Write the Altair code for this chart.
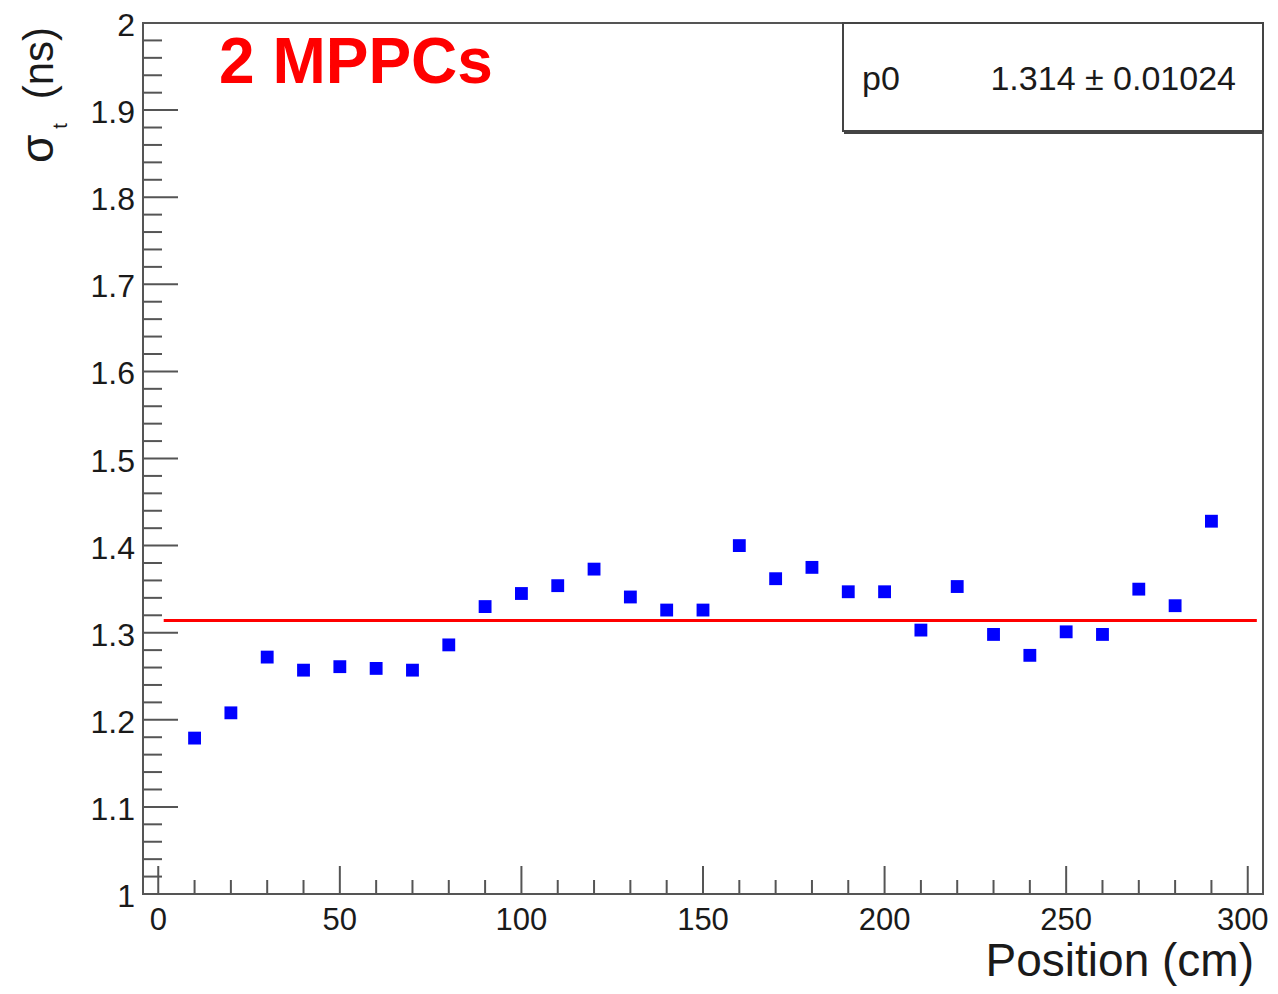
import altair as alt
import pandas as pd

# ---- data ----
positions = [10, 20, 30, 40, 50, 60, 70, 80, 90, 100, 110, 120, 130, 140, 150,
             160, 170, 180, 190, 200, 210, 220, 230, 240, 250, 260, 270, 280, 290]
sigma_t = [1.179, 1.208, 1.272, 1.257, 1.261, 1.259, 1.257, 1.286, 1.330, 1.345,
           1.354, 1.373, 1.341, 1.326, 1.326, 1.400, 1.362, 1.375, 1.347, 1.347,
           1.303, 1.353, 1.298, 1.274, 1.301, 1.298, 1.350, 1.331, 1.428]
fit_p0 = 1.314
fit_range = [1.5, 302.5]
stats_name = "p0"
stats_text = "1.314 \u00b1 0.01024"
label_text = "2 MPPCs"
x_title = "Position (cm)"

x_major = [0, 50, 100, 150, 200, 250, 300]
x_major_labels = ["0", "50", "100", "150", "200", "250", "300"]
x_minor = [v for v in range(0, 301, 10) if v % 50 != 0]
y_major = [1.0, 1.1, 1.2, 1.3, 1.4, 1.5, 1.6, 1.7, 1.8, 1.9, 2.0]
y_major_labels = ["1", "1.1", "1.2", "1.3", "1.4", "1.5", "1.6", "1.7", "1.8", "1.9", "2"]
y_minor = [round(1.0 + 0.02 * i, 2) for i in range(51) if i % 5 != 0]

W, H = 1120, 871
FONT = "Liberation Sans"
FRAME = "#555555"
TXT = "#1a1a1a"

xscale = alt.Scale(domain=[-4.2, 304.2], nice=False, zero=False)
yscale = alt.Scale(domain=[1.0, 2.0], nice=False, zero=False)

pts = pd.DataFrame({"pos": positions, "sigma": sigma_t})
fit = pd.DataFrame({"x0": [fit_range[0]], "x1": [fit_range[1]], "p0": [fit_p0]})
xlab_inner = pd.DataFrame({"v": x_major[:-1], "t": x_major_labels[:-1]})
xlab_last = pd.DataFrame({"v": x_major[-1:], "t": x_major_labels[-1:]})
ylab = pd.DataFrame({"v": y_major, "t": y_major_labels})

base_pts = alt.Chart(pts).mark_square(size=165, color="#0000ff", opacity=1).encode(
    x=alt.X("pos:Q", scale=xscale, axis=None),
    y=alt.Y("sigma:Q", scale=yscale, axis=None),
)

fit_line = alt.Chart(fit).mark_rule(color="#ff0000", strokeWidth=3).encode(
    x=alt.X("x0:Q", scale=xscale, axis=None),
    x2="x1:Q",
    y=alt.Y("p0:Q", scale=yscale, axis=None),
)

def xticks(vals, length):
    return alt.Chart(pd.DataFrame({"v": vals})).mark_rule(color=FRAME, strokeWidth=2).encode(
        x=alt.X("v:Q", scale=xscale, axis=None),
        y=alt.value(H), y2=alt.value(H - length))

def yticks(vals, length):
    return alt.Chart(pd.DataFrame({"v": vals})).mark_rule(color=FRAME, strokeWidth=2).encode(
        y=alt.Y("v:Q", scale=yscale, axis=None),
        x=alt.value(0), x2=alt.value(length))

def xlabels(df, shift):
    return alt.Chart(df).mark_text(font=FONT, fontSize=31, color=TXT, align="center",
                                   baseline="alphabetic", dx=shift).encode(
        x=alt.X("v:Q", scale=xscale, axis=None), y=alt.value(907), text="t:N")

y_labels = alt.Chart(ylab).mark_text(font=FONT, fontSize=32, color=TXT, align="right",
                                     baseline="middle", dy=3).encode(
    y=alt.Y("v:Q", scale=yscale, axis=None), x=alt.value(-8), text="t:N")

one = pd.DataFrame({"a": [0]})

x_title_mark = alt.Chart(one).mark_text(font=FONT, fontSize=46, color=TXT, align="right",
                                        baseline="alphabetic").encode(
    x=alt.value(W - 9), y=alt.value(953), text=alt.value(x_title))

# stats box
box = alt.Chart(one).mark_rect(fill="white", stroke="#444444", strokeWidth=2).encode(
    x=alt.value(700), x2=alt.value(W), y=alt.value(0), y2=alt.value(108))
box_shadow = alt.Chart(one).mark_rule(color="#444444", strokeWidth=2).encode(
    x=alt.value(701), x2=alt.value(W), y=alt.value(110))
stat_name = alt.Chart(one).mark_text(font=FONT, fontSize=34, color=TXT, align="left",
                                     baseline="alphabetic").encode(
    x=alt.value(719), y=alt.value(67), text=alt.value(stats_name))
stat_val = alt.Chart(one).mark_text(font=FONT, fontSize=34, color=TXT, align="right",
                                    baseline="alphabetic").encode(
    x=alt.value(1093), y=alt.value(67), text=alt.value(stats_text))

# red label
red_label = alt.Chart(one).mark_text(font=FONT, fontSize=64, fontWeight="bold", color="#ff0000",
                                     align="left", baseline="alphabetic").encode(
    x=alt.value(76), y=alt.value(60), text=alt.value(label_text))

# y-axis title: sigma_t (ns), rotated
ytitle_ns = alt.Chart(one).mark_text(font=FONT, fontSize=42, color=TXT, angle=270, align="right",
                                     baseline="alphabetic").encode(
    x=alt.value(-90), y=alt.value(4), text=alt.value("(ns)"))
ytitle_sigma = alt.Chart(one).mark_text(font=FONT, fontSize=46, color=TXT, angle=270, align="left",
                                        baseline="alphabetic").encode(
    x=alt.value(-90), y=alt.value(140), text=alt.value("\u03c3"))
ytitle_t = alt.Chart(one).mark_text(font=FONT, fontSize=20, color=TXT, angle=270, align="center",
                                    baseline="alphabetic").encode(
    x=alt.value(-76), y=alt.value(103), text=alt.value("t"))

chart = alt.layer(
    base_pts,
    xticks(x_minor, 14), xticks(x_major, 28),
    yticks(y_minor, 19), yticks(y_major, 35),
    fit_line, xlabels(xlab_inner, 0), xlabels(xlab_last, -5), y_labels, x_title_mark,
    box, box_shadow, stat_name, stat_val,
    red_label, ytitle_ns, ytitle_sigma, ytitle_t,
).properties(
    width=W, height=H,
    autosize=alt.AutoSizeParams(type="none"),
    padding={"left": 135, "top": 15, "right": 7, "bottom": 92},
    background="white",
).configure(
    font=FONT,
).configure_view(
    stroke=FRAME, strokeWidth=2,
)

chart.save("out.html", embed_options={"renderer": "svg", "actions": False})
